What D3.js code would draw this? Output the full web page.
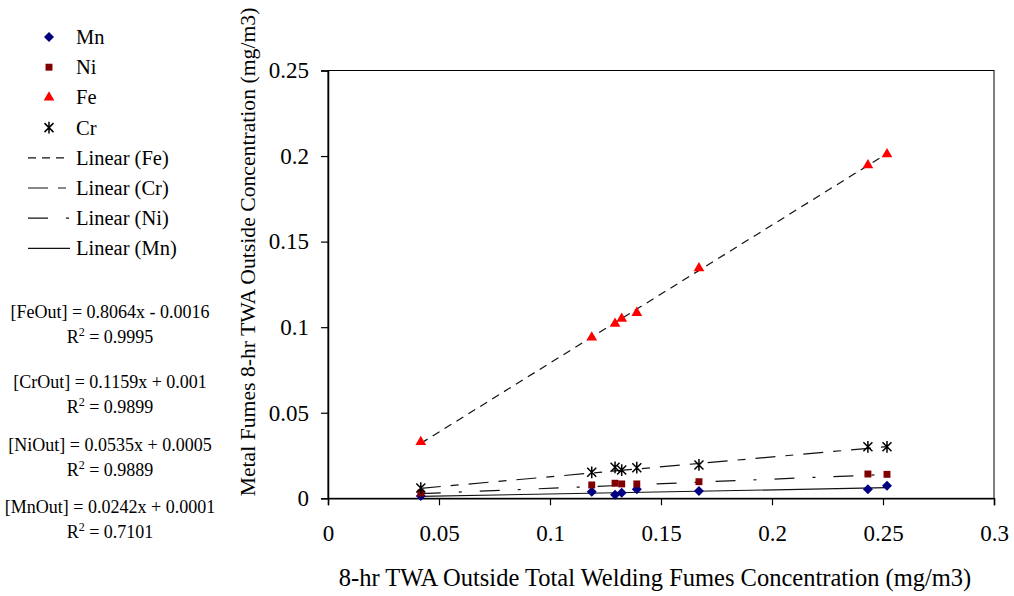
<!DOCTYPE html>
<html>
<head>
<meta charset="utf-8">
<script src="https://cdn.jsdelivr.net/npm/d3@7"></script>
<style>
  body { margin: 0; background: #fff; }
  svg, svg text { font-family: "Liberation Serif", "Times New Roman", serif; }
</style>
</head>
<body>
<svg id="chart" width="1014" height="596"></svg>
<script>
// x = total welding fumes (mg/m3), one value per sample
const totalFumes = [0.0418, 0.1188, 0.1293, 0.1323, 0.1391, 0.1671, 0.2432, 0.2518];
const mnValues = [0.0013, 0.0039, 0.0021, 0.0033, 0.0053, 0.0043, 0.0053, 0.0074];
const niValues = [0.0030, 0.0078, 0.0088, 0.0084, 0.0084, 0.0097, 0.0142, 0.0140];
const feValues = [0.0330, 0.0940, 0.1020, 0.1050, 0.1084, 0.1345, 0.1947, 0.2011];
const crValues = [0.0060, 0.0152, 0.0181, 0.0165, 0.0179, 0.0195, 0.0301, 0.0301];

// fitted trend lines as printed on the chart
const fitNames = ['Fe', 'Cr', 'Ni', 'Mn'];
const fitSlopes = [0.8064, 0.1159, 0.0535, 0.0242];
const fitIntercepts = [-0.0016, 0.001, 0.0005, 0.0001];
const fitR2 = ['0.9995', '0.9899', '0.9889', '0.7101'];

const xTicks = [0, 0.05, 0.1, 0.15, 0.2, 0.25, 0.3];
const yTicks = [0, 0.05, 0.1, 0.15, 0.2, 0.25];

const svg = d3.select('#chart');
const x = d3.scaleLinear().domain([0, 0.3]).range([328, 994]);
const y = d3.scaleLinear().domain([0, 0.25]).range([498.3, 70.5]);

const dashes = { Fe: '8,6', Cr: '20,10,8,10', Ni: '20,18,3,18', Mn: null };

// plot frame
svg.append('rect')
    .attr('x', x(0)).attr('y', y(0.25))
    .attr('width', x(0.3) - x(0)).attr('height', y(0) - y(0.25))
    .attr('fill', 'none').attr('stroke', '#000').attr('stroke-width', 1);

const fmt = d => d === 0 ? '0' : String(d);

const xAxis = svg.append('g')
    .attr('transform', `translate(0,${y(0)})`)
    .call(d3.axisBottom(x).tickValues(xTicks).tickFormat(fmt).tickSize(7).tickPadding(19));
const yAxis = svg.append('g')
    .attr('transform', `translate(${x(0)},0)`)
    .call(d3.axisLeft(y).tickValues(yTicks).tickFormat(fmt).tickSize(7).tickPadding(12));

[xAxis, yAxis].forEach(a => {
    a.attr('font-family', null).attr('font-size', null);
    a.select('.domain').attr('stroke', '#000').attr('stroke-width', 1.5);
    a.selectAll('.tick line').attr('stroke', '#000').attr('stroke-width', 1.2);
    a.selectAll('.tick text')
        .attr('fill', '#000')
        .style('font-family', '"Liberation Serif", serif')
        .style('font-size', '23px');
});

// trend lines
const xMin = d3.min(totalFumes), xMax = d3.max(totalFumes);
fitNames.forEach((n, i) => {
    svg.append('line')
        .attr('x1', x(xMin)).attr('y1', y(fitSlopes[i] * xMin + fitIntercepts[i]))
        .attr('x2', x(xMax)).attr('y2', y(fitSlopes[i] * xMax + fitIntercepts[i]))
        .attr('stroke', '#111').attr('stroke-width', 1.2)
        .attr('stroke-dasharray', dashes[n]);
});

// marker drawing helpers
const starPath = s => `M${-s},${-s}L${s},${s}M${-s},${s}L${s},${-s}M0,${-s * 1.3}L0,${s * 1.3}`;
const diamondPath = s => `M0,${-s}L${s},0L0,${s}L${-s},0Z`;
function drawMarker(g, kind) {
    if (kind === 'Mn') {
        g.append('path').attr('d', diamondPath(5)).attr('fill', '#000080');
    } else if (kind === 'Ni') {
        g.append('path').attr('d', d3.symbol(d3.symbolSquare, 48)()).attr('fill', '#800000');
    } else if (kind === 'Fe') {
        g.append('path').attr('d', d3.symbol(d3.symbolTriangle, 50)()).attr('fill', '#ff0000');
    } else {
        g.append('path').attr('d', starPath(4.5)).attr('stroke', '#000').attr('stroke-width', 1.5).attr('fill', 'none');
    }
}

const seriesList = [
    { name: 'Mn', values: mnValues },
    { name: 'Ni', values: niValues },
    { name: 'Fe', values: feValues },
    { name: 'Cr', values: crValues }
];
seriesList.forEach(s => {
    svg.append('g').selectAll('g')
        .data(s.values)
        .join('g')
        .attr('transform', (d, i) => `translate(${x(totalFumes[i])},${y(d)})`)
        .each(function() { drawMarker(d3.select(this), s.name); });
});

// legend
const legendItems = ['Mn', 'Ni', 'Fe', 'Cr', 'Linear (Fe)', 'Linear (Cr)', 'Linear (Ni)', 'Linear (Mn)'];
const legend = svg.append('g');
legendItems.forEach((label, i) => {
    const cy = 37 + i * 30.2;
    const g = legend.append('g').attr('transform', `translate(0,${cy})`);
    if (i < 4) {
        const m = g.append('g').attr('transform', 'translate(49,0)');
        drawMarker(m, label);
    } else {
        g.append('line').attr('x1', 28).attr('x2', 70).attr('y1', 0).attr('y2', 0)
            .attr('stroke', '#111').attr('stroke-width', 1.2)
            .attr('stroke-dasharray', dashes[fitNames[i - 4]]);
    }
    g.append('text').attr('x', 76).attr('y', 7).attr('font-size', 20.5).text(label);
});

// equations
const eqY = [312, 382, 445, 507];
fitNames.forEach((n, i) => {
    const b = fitIntercepts[i];
    const sign = b < 0 ? '-' : '+';
    svg.append('text')
        .attr('x', 110).attr('y', eqY[i] + 6)
        .attr('text-anchor', 'middle').attr('font-size', 18)
        .text(`[${n}Out] = ${fitSlopes[i]}x ${sign} ${Math.abs(b)}`);
    const r = svg.append('text')
        .attr('x', 110).attr('y', eqY[i] + 31)
        .attr('text-anchor', 'middle').attr('font-size', 18);
    r.append('tspan').text('R');
    r.append('tspan').attr('dy', -7).attr('font-size', 12).text('2');
    r.append('tspan').attr('dy', 7).text(` = ${fitR2[i]}`);
});

// axis titles
svg.append('text')
    .attr('x', 655).attr('y', 586)
    .attr('text-anchor', 'middle').attr('font-size', 24.5)
    .text('8-hr TWA Outside Total Welding Fumes Concentration (mg/m3)');
svg.append('text')
    .attr('transform', 'translate(255,252) rotate(-90)')
    .attr('text-anchor', 'middle').attr('font-size', 21.7)
    .text('Metal Fumes 8-hr TWA Outside Concentration (mg/m3)');
</script>
</body>
</html>
